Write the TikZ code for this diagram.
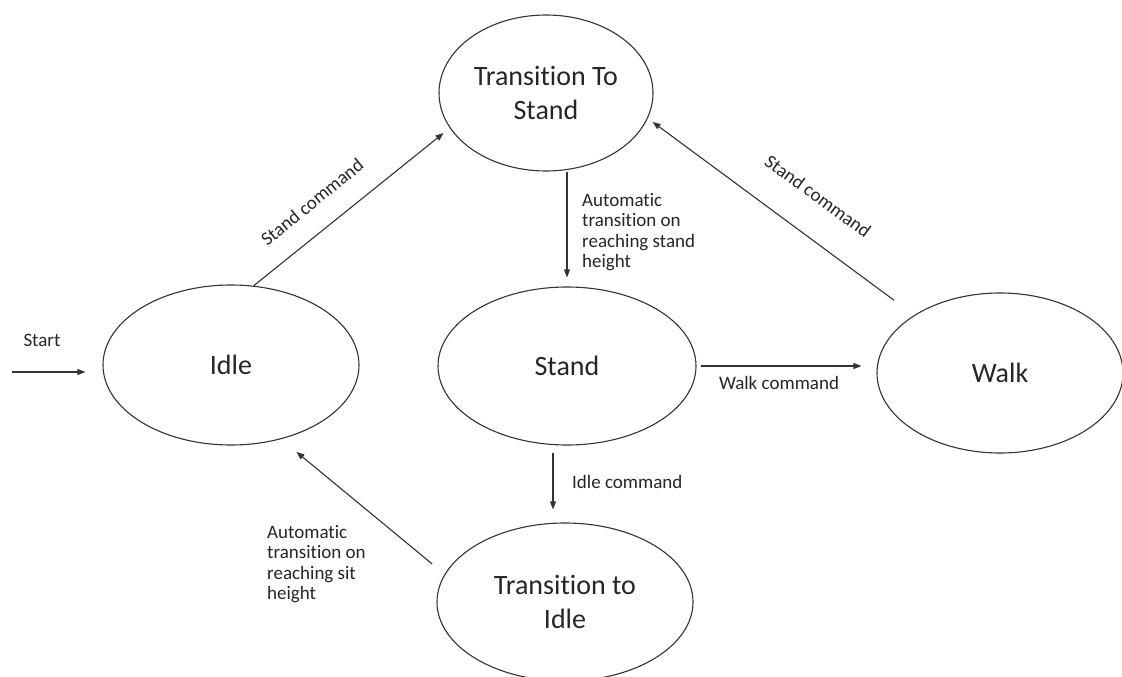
\documentclass[tikz,border=0pt]{standalone}
\usepackage{fontspec}
\setmainfont{Carlito}[Ligatures={NoCommon,NoDiscretionary,NoContextual}]
\usetikzlibrary{shapes.geometric,arrows.meta}
\definecolor{linec}{HTML}{333333}
\definecolor{txtc}{HTML}{262626}
\begin{document}
\begin{tikzpicture}[x=1pt,y=-1pt,
  state/.style={ellipse,draw=linec,line width=1.1pt,inner sep=0pt,align=center,
    font=\fontsize{28}{34}\selectfont,text=txtc},
  arr/.style={draw=linec,line width=1.1pt,-{Triangle[length=8pt,width=6pt]}},
  lbl/.style={inner sep=0pt,font=\fontsize{19}{20.5}\selectfont,text=txtc,align=left}]
\useasboundingbox[fill=white] (0,0) rectangle (1122,677);

% states
\node[state,minimum width=214pt,minimum height=156pt] (ts) at (546,93) {Transition To\\Stand};
\node[state,minimum width=256pt,minimum height=160pt] (idle) at (231,365) {Idle};
\node[state,minimum width=258pt,minimum height=158pt] (stand) at (567,366) {Stand};
\node[state,minimum width=246pt,minimum height=160pt] (walk) at (1000,373) {Walk};
\node[state,minimum width=256pt,minimum height=158pt] (ti) at (565,602) {Transition to\\Idle};

% start
\coordinate (s0) at (12,372);
\draw[arr,shorten >=17pt] (s0) -- (s0 -| idle.west);
\node[lbl] (lstart) at (42,340) {Start};

% idle -> transition to stand
\draw[arr,shorten >=8pt] (idle.74.4) -- (ts.200.1);
\node[lbl,rotate=39] (lsc1) at (312,202) {Stand command};

% transition to stand -> stand
\draw[arr,shorten >=9pt] (stand.north |- ts.south) -- (stand.north);
\node[lbl,anchor=west] (lauto1) at (582,232) {Automatic\\transition on\\reaching stand\\height};

% stand -> walk
\draw[arr,shorten <=4pt,shorten >=15pt] (stand.east) -- (stand.east -| walk.west);
\node[lbl] (lwalk) at (779,383) {Walk command};

% walk -> transition to stand
\draw[arr,shorten <=25pt,shorten >=6pt] (walk.146.2) -- (ts.-14.1);
\node[lbl,rotate=-36] (lsc2) at (818,196) {Stand command};

% stand -> transition to idle
\draw[arr,shorten <=7pt,shorten >=13pt] ([xshift=-14pt]stand.south) -- ([xshift=-14pt]stand.south |- ti.north);
\node[lbl,anchor=west] (lidle) at (572,482) {Idle command};

% transition to idle -> idle
\draw[arr,shorten <=16pt,shorten >=20pt] (ti.167.5) -- (idle.-56.9);
\node[lbl,anchor=west] (lauto2) at (267,564) {Automatic\\transition on\\reaching sit\\height};
\end{tikzpicture}
\end{document}
